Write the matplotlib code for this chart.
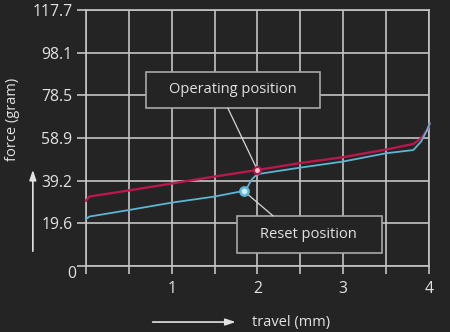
import matplotlib
matplotlib.use('Agg')
import matplotlib.pyplot as plt
from matplotlib.patches import Rectangle

# force vs travel readings
operate_travel = [0.0, 0.04, 0.5, 1.0, 1.5, 2.0, 2.5, 3.0, 3.5, 3.82, 3.91, 3.98, 4.01]
operate_force = [30.0, 31.9, 34.7, 37.9, 41.1, 44.1, 47.3, 50.0, 53.5, 56.1, 58.7, 62.5, 65.3]

reset_travel = [0.0, 0.04, 0.5, 1.0, 1.5, 1.84, 1.88, 1.93, 1.97, 2.03, 2.15, 2.5, 3.0, 3.5,
                3.82, 3.91, 3.98, 4.01]
reset_force = [21.5, 22.7, 25.7, 29.1, 31.9, 34.5, 36.0, 39.5, 41.2, 42.4, 43.1, 45.2, 48.0, 51.8,
               53.3, 57.2, 62.5, 65.6]

operating_point = (2.0, 44.1)
reset_point = (1.84, 34.5)

y_ticks = [0, 19.6, 39.2, 58.9, 78.5, 98.1, 117.7]
y_labels = ['', '19.6', '39.2', '58.9', '78.5', '98.1', '117.7']
x_ticks = [0, 0.5, 1, 1.5, 2, 2.5, 3, 3.5, 4]
x_labels = ['', '', '1', '', '2', '', '3', '', '4']

BG = '#242424'
GRID = '#c4c4c4'
TEXT = '#e2e2e2'
RED = '#b8184c'
BLUE = '#5eb4d2'

plt.rcParams['font.family'] = ['Open Sans', 'DejaVu Sans']

fig = plt.figure(figsize=(4.5, 3.32), dpi=100, facecolor=BG)
ax = fig.add_axes([0.191, 0.199, 0.762, 0.771], facecolor=BG)

ax.set_xlim(0, 4)
ax.set_ylim(0, 117.7)
ax.set_xticks(x_ticks)
ax.set_xticklabels(x_labels)
ax.set_yticks(y_ticks)
ax.set_yticklabels(y_labels)
ax.grid(True, color=GRID, linewidth=1.2)
ax.set_axisbelow(True)
for side in ['left', 'bottom', 'top', 'right']:
    ax.spines[side].set_color(GRID)
    ax.spines[side].set_linewidth(1.2)
ax.tick_params(axis='y', length=6.5, width=1.2, color=GRID, labelcolor=TEXT, labelsize=11.3, pad=3.2)
ax.tick_params(axis='x', length=6, width=1.2, color=GRID, labelcolor=TEXT, labelsize=11.3, pad=4.5)

ax.annotate('0', xy=(0, 0), xytext=(-7, -6), textcoords='offset points', ha='right', va='center',
            color=TEXT, fontsize=11.3, annotation_clip=False)

ax.plot(operate_travel, operate_force, color=RED, linewidth=1.7, clip_on=False, zorder=3)
ax.plot(reset_travel, reset_force, color=BLUE, linewidth=1.3, clip_on=False, zorder=3)

ax.plot(*operating_point, 'o', color=RED, markersize=5, markerfacecolor='#f4c8d4', markeredgewidth=1.5,
        zorder=5)
ax.plot(*reset_point, 'o', color=BLUE, markersize=6, markerfacecolor='#c8eefa', markeredgewidth=1.8,
        zorder=5)

# callout boxes
ax.add_patch(Rectangle((0.70, 72.5), 2.03, 16.8, facecolor=BG, edgecolor='#a8a8a8', linewidth=1.2, zorder=4))
ax.text(1.715, 80.9, 'Operating position', ha='center', va='center', color=TEXT, fontsize=10.5, zorder=6)
ax.plot([1.656, operating_point[0]], [72.5, operating_point[1]], color='#d8d8d8', linewidth=0.9, zorder=4)

ax.add_patch(Rectangle((1.757, 6.1), 1.691, 17.0, facecolor=BG, edgecolor='#a8a8a8', linewidth=1.2, zorder=4))
ax.text(2.60, 14.6, 'Reset position', ha='center', va='center', color=TEXT, fontsize=10.5, zorder=6)
ax.plot([reset_point[0], 2.18], [reset_point[1], 23.1], color='#d8d8d8', linewidth=0.9, zorder=4)

# axis titles with arrows
fig.text(0.027, 0.64, 'force (gram)', rotation=90, ha='center', va='center', color=TEXT, fontsize=10.5)
ax.annotate('', xy=(0.073, 0.497), xytext=(0.073, 0.235), xycoords='figure fraction',
            textcoords='figure fraction',
            arrowprops=dict(arrowstyle='-|>,head_length=0.6,head_width=0.2', color=TEXT, linewidth=1.2))
ax.annotate('', xy=(0.53, 0.03), xytext=(0.333, 0.03), xycoords='figure fraction',
            textcoords='figure fraction',
            arrowprops=dict(arrowstyle='-|>,head_length=0.6,head_width=0.2', color=TEXT, linewidth=1.2))
fig.text(0.56, 0.03, 'travel (mm)', ha='left', va='center', color=TEXT, fontsize=10.5)

fig.savefig('out.png', dpi=100, facecolor=BG)
